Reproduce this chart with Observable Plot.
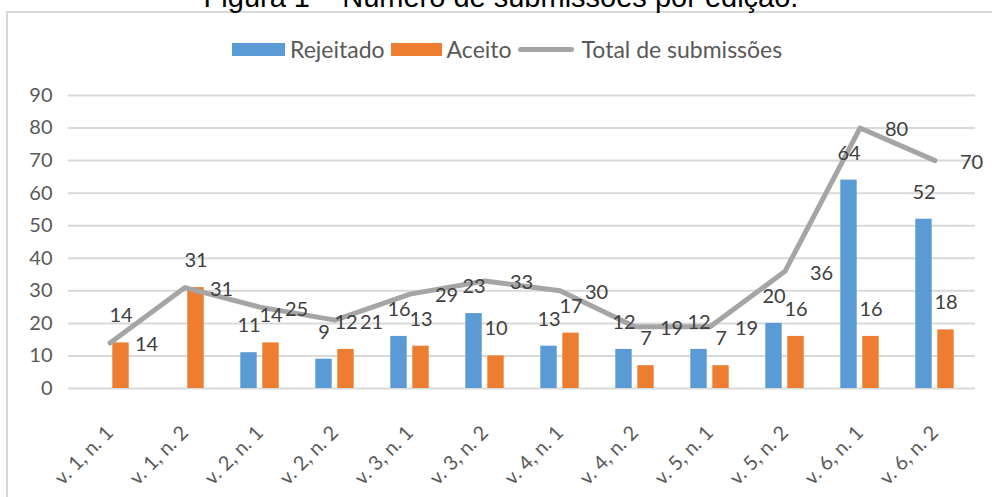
<!DOCTYPE html>
<html>
<head>
<meta charset="utf-8">
<script src="https://cdn.jsdelivr.net/npm/d3@7"></script>
<script src="https://cdn.jsdelivr.net/npm/@observablehq/plot@0.6"></script>
<style>
  html, body { margin: 0; padding: 0; background: #fff; overflow: hidden; }
  #wrap { position: relative; width: 992px; height: 497px; overflow: hidden; }
  #title { position: absolute; left: 0; width: 1002px; top: -17.5px; text-align: center;
    font-family: "Liberation Sans", Arial, sans-serif; font-size: 29px; line-height: 29px; color: #000; white-space: nowrap; }
  #frame { position: absolute; left: 6px; top: 11px; width: 1000px; height: 600px; border: 2px solid #D9D9D9; box-sizing: border-box; }
  #legend { position: absolute; left: 232px; top: 35px; display: flex; align-items: center;
    font-family: Lato, "Open Sans", sans-serif; font-size: 23px; color: #595959; white-space: nowrap; }
  #legend .sw { display: inline-block; height: 13px; margin-right: 5px; }
  #legend .lbl { margin-right: 6px; }
  #chart { position: absolute; left: 0; top: 0; }
</style>
</head>
<body>
<div id="wrap">
  <div id="frame"></div>
  <div id="title">Figura 1 – Número de submissões por edição.</div>
  <div id="legend"></div>
  <div id="chart"></div>
</div>
<script>
const categories = ["v. 1, n. 1", "v. 1, n. 2", "v. 2, n. 1", "v. 2, n. 2", "v. 3, n. 1", "v. 3, n. 2",
                    "v. 4, n. 1", "v. 4, n. 2", "v. 5, n. 1", "v. 5, n. 2", "v. 6, n. 1", "v. 6, n. 2"];
const rejeitado = [null, null, 11, 9, 16, 23, 13, 12, 12, 20, 64, 52];
const aceito = [14, 31, 14, 12, 13, 10, 17, 7, 7, 16, 16, 18];
const total = [14, 31, 25, 21, 29, 33, 30, 19, 19, 36, 80, 70];
const yTicks = [0, 10, 20, 30, 40, 50, 60, 70, 80, 90];
const seriesNames = ["Rejeitado", "Aceito", "Total de submissões"];
const colors = ["#5B9BD5", "#ED7D31", "#A5A5A5"];

const rejData = categories.map((c, i) => ({cat: c, v: rejeitado[i]})).filter(d => d.v != null);
const aceData = categories.map((c, i) => ({cat: c, v: aceito[i]}));
const totData = categories.map((c, i) => ({cat: c, v: total[i]}));

// legend
const legend = document.getElementById("legend");
seriesNames.forEach((name, i) => {
  const sw = document.createElement("span");
  sw.className = "sw";
  if (i < 2) {
    sw.style.width = (i === 0 ? 53 : 51) + "px";
    sw.style.background = colors[i];
  } else {
    sw.style.width = "56px";
    sw.style.height = "5px";
    sw.style.borderRadius = "3px";
    sw.style.background = colors[i];
    sw.style.marginRight = "8px";
  }
  legend.appendChild(sw);
  const t = document.createElement("span");
  t.className = "lbl";
  t.textContent = name;
  legend.appendChild(t);
});

const W = 992, H = 497, mL = 68, mR = 17, mT = 95, mB = 109;
const bw = (W - mL - mR) / categories.length;
const half = bw / 2;
const barW = 17, gap = 5;
const font = "Lato, 'Open Sans', sans-serif";

const chart = Plot.plot({
  width: W,
  height: H,
  marginLeft: mL,
  marginRight: mR,
  marginTop: mT,
  marginBottom: mB,
  style: {fontFamily: font, fontSize: "20px", color: "#595959", background: "transparent", overflow: "visible"},
  x: {domain: categories, padding: 0, label: null},
  y: {domain: [0, 90], label: null},
  marks: [
    Plot.ruleY(yTicks, {stroke: "#D9D9D9", strokeWidth: 2}),
    Plot.axisY({ticks: yTicks, tickSize: 0, tickPadding: 16, fontSize: 20, fill: "#595959", label: null}),
    Plot.axisX({tickSize: 0, tickPadding: 41, tickRotate: -45, fontSize: 20, fill: "#595959", label: null}),
    Plot.barY(rejData, {x: "cat", y: "v", fill: colors[0],
      insetLeft: half - gap / 2 - barW, insetRight: half + gap / 2}),
    Plot.barY(aceData, {x: "cat", y: "v", fill: colors[1],
      insetLeft: half + gap / 2, insetRight: half - gap / 2 - barW}),
    Plot.line(totData, {x: "cat", y: "v", stroke: colors[2], strokeWidth: 5,
      strokeLinejoin: "round", strokeLinecap: "round"}),
    Plot.text(rejData, {x: "cat", y: "v", text: "v", dx: -(gap / 2 + barW / 2), dy: -27,
      fontSize: 20, fill: "#404040"}),
    Plot.text(aceData, {x: "cat", y: "v", text: "v", dx: gap / 2 + barW / 2, dy: -27,
      fontSize: 20, fill: "#404040"}),
    Plot.text(totData, {x: "cat", y: "v", text: "v", dx: 25, dy: 2, textAnchor: "start",
      fontSize: 20, fill: "#404040"})
  ]
});
document.getElementById("chart").appendChild(chart);
</script>
</body>
</html>
